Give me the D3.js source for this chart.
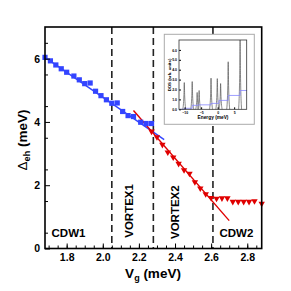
<!DOCTYPE html>
<html>
<head>
<meta charset="utf-8">
<script src="https://cdn.jsdelivr.net/npm/d3@7"></script>
<style>
  body { margin: 0; background: #fff; }
  text { font-family: "Liberation Sans", Arial, sans-serif; font-weight: bold; }
</style>
</head>
<body>
<div class="chart"></div>
<script>
// main panel data
const blueX = [1.68, 1.71, 1.74, 1.77, 1.80, 1.84, 1.87, 1.90, 1.93, 1.96, 1.99, 2.02, 2.05, 2.08, 2.11, 2.14, 2.17, 2.21, 2.24, 2.27]
const blueY = [6.04, 5.93, 5.80, 5.68, 5.57, 5.45, 5.33, 5.21, 5.23, 4.97, 4.83, 4.70, 4.59, 4.60, 4.33, 4.20, 4.17, 3.99, 3.95, 3.95]
const redX = [2.27, 2.30, 2.33, 2.36, 2.39, 2.42, 2.45, 2.48, 2.51, 2.54, 2.57, 2.60, 2.63, 2.66, 2.69, 2.72, 2.75, 2.78, 2.81, 2.84, 2.88]
const redY = [3.70, 3.52, 3.28, 3.04, 2.88, 2.68, 2.48, 2.37, 2.10, 1.90, 1.72, 1.60, 1.58, 1.59, 1.59, 1.48, 1.48, 1.48, 1.48, 1.50, 1.42]
const blueFit = [[1.68, 6.04], [2.34, 3.44]]
const redFit = [[2.17, 4.36], [2.70, 0.88]]
const dividers = [2.05, 2.28, 2.61]
const phaseLabels = [
    {text: "CDW1", x: 1.81, y: 0.36, rot: false},
    {text: "VORTEX1", x: 2.168, y: 0.34, rot: true},
    {text: "VORTEX2", x: 2.42, y: 0.3, rot: true},
    {text: "CDW2", x: 2.74, y: 0.36, rot: false}
]
const xTicks = [1.8, 2.0, 2.2, 2.4, 2.6, 2.8]
const yTicks = [0, 2, 4, 6]

// inset data
const peakE = [-10.1, -7.7, -6.2, -5.6, -2.0, -0.1, 0.9, 3.2, 6.8]
const peakH = [2.7, 2.8, 1.7, 1.9, 3.15, 3.1, 2.6, 4.8, 7.0]
const stepE = [-11.5, -10.1, -7.7, -5.9, -2.0, 0.4, 3.2, 6.8, 8.9]
const stepV = [0.0, 0.1, 0.4, 0.45, 0.6, 0.9, 1.4, 1.9, 1.9]
const insetXTicks = [-10, -5, 0, 5]
const insetYTicks = [0, 1, 2, 3, 4, 5, 6]

const width = 291
const height = 291
const svg = d3.select(".chart").append("svg")
    .attr("width", width)
    .attr("height", height)

const x = d3.scaleLinear().domain([1.68, 2.88]).range([45, 261.7])
const y = d3.scaleLinear().domain([0, 7]).range([248.5, 27])

const blue = "#3344ff"
const red = "#e00000"

// dashed dividers
svg.append("g").selectAll("line")
    .data(dividers)
    .join("line")
    .attr("x1", d => x(d)).attr("x2", d => x(d))
    .attr("y1", y(7)).attr("y2", y(0))
    .attr("stroke", "#222")
    .attr("stroke-width", 1.6)
    .attr("stroke-dasharray", "7,4")

// fits
const line = d3.line().x(d => x(d[0])).y(d => y(d[1]))
svg.append("path").datum(blueFit).attr("d", line)
    .attr("stroke", blue).attr("stroke-width", 1.4).attr("fill", "none")
svg.append("path").datum(redFit).attr("d", line)
    .attr("stroke", red).attr("stroke-width", 1.4).attr("fill", "none")

// markers
svg.append("g").selectAll("rect")
    .data(blueX.map((d, i) => [d, blueY[i]]))
    .join("rect")
    .attr("x", d => x(d[0]) - 2.6)
    .attr("y", d => y(d[1]) - 2.6)
    .attr("width", 5.2).attr("height", 5.2)
    .attr("fill", blue)

const tri = d3.symbol().type(d3.symbolTriangle).size(18)
svg.append("g").selectAll("path")
    .data(redX.map((d, i) => [d, redY[i]]))
    .join("path")
    .attr("d", tri)
    .attr("transform", d => `translate(${x(d[0])},${y(d[1])}) rotate(180)`)
    .attr("fill", red)

// phase labels
svg.append("g").selectAll("text")
    .data(phaseLabels)
    .join("text")
    .attr("transform", d => `translate(${x(d.x)},${y(d.y)})` + (d.rot ? " rotate(-90)" : ""))
    .attr("text-anchor", d => d.rot ? "start" : "middle")
    .attr("font-size", 11.5)
    .text(d => d.text)

// axes
const xAxis = svg.append("g").attr("transform", `translate(0,${y(0)})`)
xAxis.call(d3.axisBottom(x).tickValues(d3.range(1.70, 2.881, 0.05)).tickSize(-3).tickFormat(""))
const xMaj = svg.append("g").attr("transform", `translate(0,${y(0)})`)
    .call(d3.axisBottom(x).tickValues(xTicks).tickSize(-5).tickPadding(5).tickFormat(d3.format(".1f")))
xMaj.selectAll("text").attr("font-size", 10.5).attr("font-family", "Liberation Sans, Arial").attr("font-weight", "bold")

const yAxis = svg.append("g").attr("transform", `translate(${x(1.68)},0)`)
yAxis.call(d3.axisLeft(y).tickValues(d3.range(0.5, 7, 1)).tickSize(-3).tickFormat(""))
const yMaj = svg.append("g").attr("transform", `translate(${x(1.68)},0)`)
    .call(d3.axisLeft(y).tickValues(yTicks).tickSize(-5).tickPadding(5).tickFormat(d3.format("d")))
yMaj.selectAll("text").attr("font-size", 10.5).attr("font-family", "Liberation Sans, Arial").attr("font-weight", "bold")
svg.selectAll(".domain").remove()

// frame
svg.append("rect")
    .attr("x", x(1.68)).attr("y", y(7))
    .attr("width", x(2.88) - x(1.68)).attr("height", y(0) - y(7))
    .attr("fill", "none").attr("stroke", "#000").attr("stroke-width", 1.6)

// axis titles
const xt = svg.append("text")
    .attr("x", 153).attr("y", 278)
    .attr("text-anchor", "middle")
    .attr("font-size", 13.5)
xt.append("tspan").text("V")
xt.append("tspan").attr("font-size", 9).attr("dy", 3).text("g")
xt.append("tspan").attr("dy", -3).text(" (meV)")

const yt = svg.append("text")
    .attr("transform", "translate(27,140) rotate(-90)")
    .attr("text-anchor", "middle")
    .attr("font-size", 13.5)
yt.append("tspan").attr("font-weight", "normal").text("Δ")
yt.append("tspan").attr("font-size", 9).attr("dy", 3).text("eh")
yt.append("tspan").attr("dy", -3).text(" (meV)")

// inset
const inset = svg.append("g")
inset.append("rect")
    .attr("x", 164.3).attr("y", 34.3).attr("width", 90).attr("height", 90)
    .attr("fill", "#fff").attr("stroke", "#aaa").attr("stroke-width", 1)

const ix = d3.scaleLinear().domain([-11.7, 8.8]).range([179, 246.7])
const iy = d3.scaleLinear().domain([0, 7]).range([109.3, 40])

const spike = d3.line().x(d => ix(d[0])).y(d => iy(d[1])).curve(d3.curveMonotoneX)
inset.append("g").selectAll("path")
    .data(peakE.map((e, i) => [[e - 0.45, 0], [e - 0.12, peakH[i] * 0.5], [e, peakH[i]], [e + 0.12, peakH[i] * 0.5], [e + 0.45, 0]]))
    .join("path")
    .attr("d", spike)
    .attr("fill", "none").attr("stroke", "#555").attr("stroke-width", 0.7)

inset.append("path")
    .datum(stepE.map((e, i) => [e, stepV[i]]))
    .attr("d", d3.line().x(d => ix(d[0])).y(d => iy(d[1])).curve(d3.curveStepAfter))
    .attr("fill", "none").attr("stroke", "#8888ff").attr("stroke-width", 0.8)

const ixa = inset.append("g").attr("transform", `translate(0,${iy(0)})`)
    .call(d3.axisBottom(ix).tickValues(insetXTicks).tickSize(-2).tickPadding(2))
ixa.selectAll("text").attr("font-size", 3.5)
const iya = inset.append("g").attr("transform", `translate(${ix(-11.7)},0)`)
    .call(d3.axisLeft(iy).tickValues(insetYTicks).tickSize(-2).tickPadding(2))
iya.selectAll("text").attr("font-size", 3.5)
inset.selectAll(".domain").remove()
inset.append("rect")
    .attr("x", 179).attr("y", 40).attr("width", 67.7).attr("height", 69.3)
    .attr("fill", "none").attr("stroke", "#333").attr("stroke-width", 0.8)

inset.append("text")
    .attr("x", 213).attr("y", 119)
    .attr("text-anchor", "middle").attr("font-size", 4.8)
    .text("Energy (meV)")
inset.append("text")
    .attr("transform", "translate(170.5,75) rotate(-90)")
    .attr("text-anchor", "middle").attr("font-size", 4.3)
    .text("DOS (arb. units)")
</script>
</body>
</html>
